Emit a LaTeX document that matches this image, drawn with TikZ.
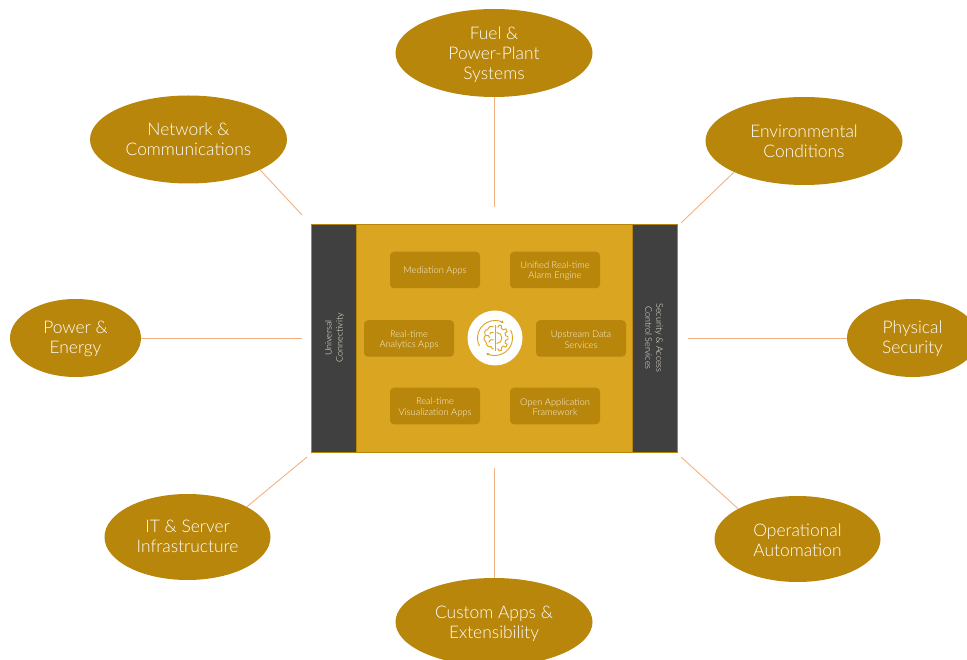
\documentclass[tikz,border=0pt]{standalone}
\usepackage{fontspec}
\setmainfont{Lato}[UprightFont=* Light]
\usetikzlibrary{shapes.geometric,arrows.meta}
\definecolor{dgold}{HTML}{B8860B}
\definecolor{lgold}{HTML}{DAA520}
\definecolor{slate}{HTML}{404040}
\definecolor{peach}{HTML}{F4B183}
\definecolor{soft}{HTML}{FBF3DE}
\newcommand{\lowbig}{\rule{0pt}{16.5pt}}
\newcommand{\lowmid}{\rule{0pt}{14.5pt}}
\newcommand{\lowsmall}{\rule{0pt}{9.2pt}}
\tikzset{
 topic/.style={ellipse,fill=dgold,text=white,inner sep=0pt,align=center,font=\fontsize{17.4}{20}\selectfont},
 link/.style={draw=peach,line width=0.9pt},
 appbox/.style={rounded corners=4pt,fill=dgold,minimum width=90pt,minimum height=36.5pt,inner sep=0pt,align=center,text=soft,font=\fontsize{9.3}{10.5}\selectfont},
 panel/.style={fill=slate,draw=dgold,line width=0.6pt},
 paneltext/.style={text=soft,align=center,font=\fontsize{9}{11}\selectfont},
 icon/.style={draw=lgold,line width=0.9pt,fill=none},
 orbit/.style={icon,-{Stealth[length=3pt,width=3pt]}}
}
\begin{document}
\begin{tikzpicture}[x=1pt,y=-1pt]
\useasboundingbox (0,0) rectangle (967,660);
\clip (0,0) rectangle (967,660);
% block
\node[draw=dgold,fill=lgold,line width=0.6pt,minimum width=366pt,minimum height=228pt,inner sep=0pt] (core) at (494,338) {};
\node[panel,minimum width=45pt,minimum height=228pt,inner sep=0pt] (left) at (333.5,338) {};
\node[panel,minimum width=45pt,minimum height=228pt,inner sep=0pt] (right) at (654.5,338) {};
\node[paneltext,rotate=90] (lefttext) at (334.7,338) {Universal\\Connectivity};
\node[paneltext,rotate=-90] (righttext) at (654,338) {Security \& Access\\Control Services};
% apps
\node[appbox] (med) at (435,270) {\lowsmall Mediation Apps};
\node[appbox] (alarm) at (555,270) {\lowsmall Unified Real-time\\Alarm Engine};
\node[appbox] (ana) at (409,338.5) {\lowsmall Real-time\\Analytics Apps};
\node[appbox] (up) at (581,338.5) {\lowsmall Upstream Data\\Services};
\node[appbox] (vis) at (435,406) {\lowsmall Real-time\\Visualization Apps};
\node[appbox] (open) at (555,406) {\lowsmall Open Application\\Framework};
% hub
\node[circle,fill=white,minimum size=55pt,inner sep=0pt] (hub) at (495,338) {};
\begin{scope}[shift={(495,338)}]
 \draw[icon] (0,-13) -- (0,13);
 % gear half
 \draw[icon,line join=round] (1.5,-11) -- (3.5,-11) -- (4,-13) -- (6.5,-12.2) -- (6.3,-9.8) -- (8.3,-8) -- (10.8,-9.2) -- (12.2,-6.5) -- (10,-4.8) -- (10.7,-2.2) -- (13,-1.3) -- (13,1.3) -- (10.7,2.2) -- (10,4.8) -- (12.2,6.5) -- (10.8,9.2) -- (8.3,8) -- (6.3,9.8) -- (6.5,12.2) -- (4,13) -- (3.5,11) -- (1.5,11);
 \draw[icon] (1.5,-5.5) arc (-90:90:5.5);
 % brain half
 \draw[icon,line join=round] (-1.5,-11) .. controls (-4.5,-12.5) and (-7,-11) .. (-7.5,-8.5) .. controls (-10.5,-8) and (-11.5,-4.5) .. (-9.7,-2.5) .. controls (-12,0) and (-11,3.5) .. (-8.8,4.5) .. controls (-8.8,8) and (-5.3,9.7) .. (-4,8.5) .. controls (-3.5,10.5) and (-1.8,11.5) .. (-1.5,10.5);
 \draw[icon] (-1.5,-5.5) .. controls (-3.5,-6.2) and (-5.3,-5.3) .. (-5.3,-3.5);
 \draw[icon] (-9.7,-2.5) .. controls (-7,-3.5) and (-5.3,-1.8) .. (-5.3,0);
 \draw[icon] (-1.5,1.8) .. controls (-3.5,1) and (-6.2,1.8) .. (-6.2,4.5);
 % orbit arcs
 \draw[orbit] (-15.6,8) arc (153:300:17.5);
 \draw[orbit] (15.6,-8) arc (-27:120:17.5);
\end{scope}
% topics
\node[topic,minimum width=197pt,minimum height=88pt] (fuel) at (494,53) {\lowbig Fuel \&\\Power-Plant\\Systems};
\node[topic,minimum width=197pt,minimum height=88pt] (net) at (188.5,139.5) {Network \&\\Communications};
\node[topic,minimum width=197pt,minimum height=88pt] (env) at (804,141) {Environmental\\Conditions};
\node[topic,minimum width=131pt,minimum height=78pt] (pow) at (75.5,338) {\lowmid Power \&\\Energy};
\node[topic,minimum width=131pt,minimum height=78pt] (phy) at (912.5,338) {\lowmid Physical\\Security};
\node[topic,minimum width=166pt,minimum height=86pt] (it) at (187.5,537) {IT \& Server\\Infrastructure\rule[-2pt]{0pt}{0pt}};
\node[topic,minimum width=166pt,minimum height=86pt] (ops) at (797.5,539) {\lowmid Operational\\Automation};
\node[topic,minimum width=197pt,minimum height=88pt] (cus) at (494,622) {\lowbig Custom Apps \&\\Extensibility};
% free ends
\coordinate (efuel) at (494,207);
\coordinate (enet) at (302,215);
\coordinate (eenv) at (681,223);
\coordinate (epow) at (302,338);
\coordinate (ephy) at (688,338);
\coordinate (eit) at (307,457);
\coordinate (eops) at (681,457);
\coordinate (ecus) at (494,468);
\draw[link] (fuel.south) -- (efuel);
\draw[link] (net.-23) -- (enet);
\draw[link] (env.204) -- (eenv);
\draw[link] (pow.east) -- (epow);
\draw[link] (phy.west) -- (ephy);
\draw[link] (it.27) -- (eit);
\draw[link] (ops.153) -- (eops);
\draw[link] (cus.north) -- (ecus);
\end{tikzpicture}
\end{document}
